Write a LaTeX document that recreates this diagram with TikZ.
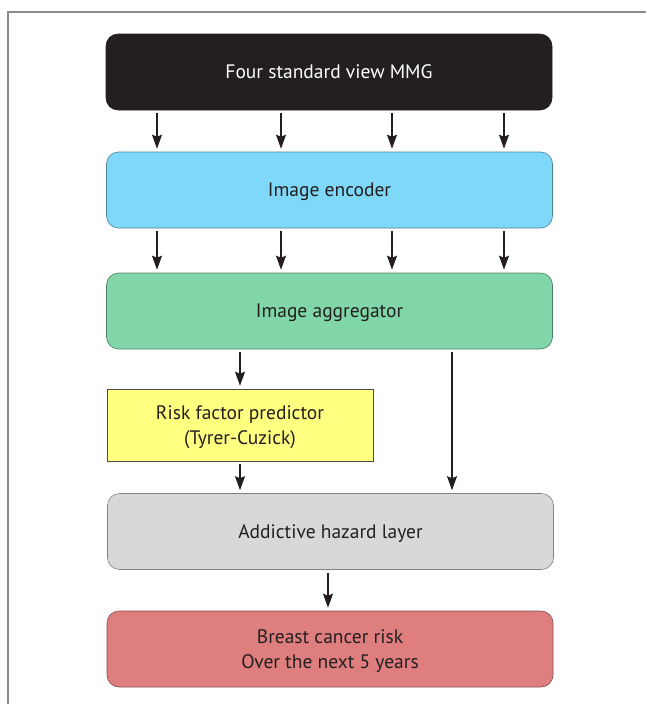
\documentclass[tikz,border=0pt]{standalone}
\usepackage{fontspec}
\setmainfont{PT Sans}
\usetikzlibrary{arrows.meta}
\definecolor{boxblack}{HTML}{231F20}
\definecolor{boxblue}{HTML}{80D8F8}
\definecolor{boxgreen}{HTML}{80D6A8}
\definecolor{boxyellow}{HTML}{FFFF80}
\definecolor{boxgray}{HTML}{D8D8D8}
\definecolor{boxred}{HTML}{DF7E7E}
\definecolor{framegray}{HTML}{8A8A8A}
\definecolor{txt}{HTML}{231F20}
\newcommand{\upstrut}{\rule{0pt}{18pt}}
\begin{document}
\begin{tikzpicture}[x=1pt,y=-1pt,
  blk/.style={draw=#1!60!black, line width=0.6pt, rounded corners=12pt, fill=#1, text=txt,
    minimum width=446pt, minimum height=76pt, inner sep=0pt, align=center, font=\fontsize{19.5}{24}\selectfont},
  oneline/.style={text height=13pt, text depth=0pt},
  arr/.style={-{Stealth[length=14pt,width=10pt,inset=2pt]}, line width=1.1pt, draw=txt}]
\useasboundingbox (0,0) rectangle (646,704);
\draw[framegray, line width=1.2pt] (8,704) -- (8,12) -- (646,12);
\node[blk=boxblack, oneline, draw=boxblack, text=white] (mmg) at (329,72) {Four standard view MMG};
\node[blk=boxblue, oneline] (enc) at (329.5,190) {Image encoder};
\node[blk=boxgreen, oneline] (agg) at (329.5,311) {Image aggregator};
\node[draw=black!70, line width=0.6pt, fill=boxyellow, text=txt, minimum width=266pt, minimum height=72pt, inner sep=0pt, align=center, font=\fontsize{19.5}{25}\selectfont] (risk) at (240,425) {\upstrut Risk factor predictor\\(Tyrer-Cuzick)};
\node[blk=boxgray, oneline] (haz) at (330.5,531.5) {Addictive hazard layer};
\node[blk=boxred, font=\fontsize{19.5}{25}\selectfont] (out) at (330,649) {\upstrut Breast cancer risk\\Over the next 5 years};
\foreach \x in {157,281,392,504}{
  \draw[arr] ([yshift=-3pt]mmg.south -| \x,0) -- ([yshift=3pt]enc.north -| \x,0);
  \draw[arr] ([yshift=-3pt]enc.south -| \x,0) -- ([yshift=3pt]agg.north -| \x,0);
}
\draw[arr] ([yshift=-3pt]agg.south -| 240,0) -- ([yshift=3pt]risk.north -| 240,0);
\draw[arr] ([yshift=-3pt]agg.south -| 452,0) -- ([yshift=3pt]haz.north -| 452,0);
\draw[arr] ([yshift=-3pt]risk.south -| 240,0) -- ([yshift=3pt]haz.north -| 240,0);
\draw[arr] ([yshift=-3pt]haz.south -| 328,0) -- ([yshift=3pt]out.north -| 328,0);
\end{tikzpicture}
\end{document}
